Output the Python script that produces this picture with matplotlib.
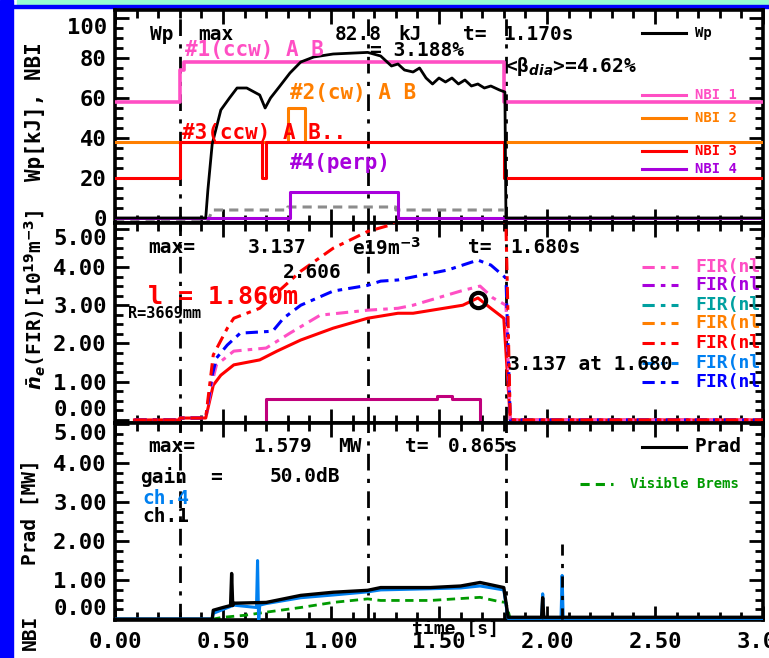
import matplotlib
matplotlib.use("Agg")
import matplotlib.pyplot as plt
from matplotlib.patches import Rectangle
from matplotlib.ticker import MultipleLocator

W, H = 769, 658

# ---- panel 1 : stored energy and NBI timing ----
WP_T = [0.00, 0.42, 0.43, 0.45, 0.49, 0.53, 0.565, 0.61, 0.67, 0.695, 0.72, 0.76, 0.81, 0.86,
        0.92, 1.01, 1.17, 1.23, 1.25, 1.28, 1.31, 1.34, 1.38, 1.41, 1.44, 1.47, 1.50, 1.53,
        1.56, 1.59, 1.62, 1.65, 1.68, 1.71, 1.74, 1.78, 1.805, 1.81, 3.00]
WP_V = [0, 0, 14, 37, 54, 60, 65, 65, 61.5, 55, 60, 65.5, 72.5, 78,
        80.5, 82, 82.8, 81, 79, 76, 77, 74, 73, 75, 70, 67, 70, 68,
        70, 67, 69, 66, 67, 65, 66, 64, 63, 0, 0]
NBI1_T = [0.00, 0.30, 0.30, 0.32, 0.32, 1.80, 1.80, 3.00]
NBI1_V = [58, 58, 74, 74, 78, 78, 58, 58]
NBI2_T = [0.00, 0.80, 0.80, 0.88, 0.88, 3.00]
NBI2_V = [38, 38, 55, 55, 38, 38]
NBI3_T = [0.00, 0.30, 0.30, 0.68, 0.68, 0.70, 0.70, 1.80, 1.80, 3.00]
NBI3_V = [20, 20, 38, 38, 20, 20, 38, 38, 20, 20]
NBI4_T = [0.00, 0.81, 0.81, 1.31, 1.31, 3.00]
NBI4_V = [0, 0, 13, 13, 0, 0]
GREY_T = [0.00, 0.43, 0.45, 0.80, 0.80, 1.30, 1.30, 1.80]
GREY_V = [-1.8, -1.8, 4, 4, 5.5, 5.5, 4, 4]

# ---- panel 2 : line averaged density (FIR) ----
PINK_T = [0.09, 0.30, 0.30, 0.42, 0.45, 0.47, 0.55, 0.70, 0.81, 0.95, 1.17, 1.31, 1.38,
          1.60, 1.69, 1.75, 1.81, 1.83, 3.00]
PINK_V = [0, 0, 0.05, 0.05, 1.0, 1.44, 1.80, 1.88, 2.27, 2.74, 2.87, 2.92, 3.0,
          3.37, 3.5, 3.19, 3.0, 0, 0]
REDD_T = [0.09, 0.30, 0.30, 0.42, 0.455, 0.52, 0.55, 0.67, 0.86, 1.01, 1.17, 1.27, 1.35,
          1.78, 1.81, 1.83, 3.00]
REDD_V = [0, 0, 0.05, 0.05, 1.70, 2.40, 2.66, 2.92, 3.89, 4.49, 4.93, 5.09, 5.4,
          5.4, 5.1, 0, 0]
BLUE_T = [0.09, 0.30, 0.30, 0.42, 0.45, 0.47, 0.52, 0.58, 0.73, 0.78, 0.86, 1.01, 1.17,
          1.23, 1.31, 1.54, 1.68, 1.74, 1.81, 1.83, 3.00]
BLUE_V = [0, 0, 0.05, 0.05, 1.17, 1.62, 1.96, 2.27, 2.32, 2.66, 3.0, 3.37, 3.52,
          3.63, 3.66, 3.92, 4.18, 4.05, 3.71, 0, 0]
REDS_T = [0.09, 0.30, 0.30, 0.42, 0.455, 0.49, 0.55, 0.67, 0.75, 0.86, 1.01, 1.17, 1.31,
          1.38, 1.61, 1.68, 1.74, 1.80, 1.83, 3.00]
REDS_V = [0, 0, 0.05, 0.05, 0.91, 1.17, 1.44, 1.57, 1.80, 2.09, 2.40, 2.66, 2.79,
          2.79, 3.0, 3.19, 2.92, 2.66, 0, 0]
GATE_T = [0.70, 0.70, 1.49, 1.49, 1.56, 1.56, 1.69, 1.69]
GATE_V = [0, 0.55, 0.55, 0.62, 0.62, 0.55, 0.55, 0]
NE_MAX = (1.68, 3.137)

# ---- panel 3 : radiated power ----
PRAD_T = [0.00, 0.45, 0.455, 0.50, 0.535, 0.54, 0.545, 0.55, 0.70, 0.86, 1.01, 1.17, 1.23,
          1.46, 1.60, 1.69, 1.80, 1.82, 1.975, 1.98, 1.985, 3.00]
PRAD_V = [0, 0, 0.23, 0.30, 0.35, 1.17, 0.35, 0.41, 0.43, 0.61, 0.69, 0.74, 0.81,
          0.81, 0.85, 0.94, 0.81, 0.05, 0.05, 0.55, 0.05, 0.05]
CH4_T = [0.00, 0.45, 0.455, 0.50, 0.55, 0.655, 0.66, 0.665, 0.67, 0.70, 0.86, 1.01, 1.17,
         1.23, 1.46, 1.60, 1.69, 1.80, 1.82, 1.975, 1.98, 1.985, 2.065, 2.07, 2.075, 3.00]
CH4_V = [0.01, 0.01, 0.15, 0.25, 0.36, 0.30, 1.50, -0.10, 0.36, 0.40, 0.55, 0.62, 0.70,
         0.75, 0.78, 0.80, 0.85, 0.75, 0.02, 0.02, 0.65, 0.02, 0.02, 1.12, 0.02, 0.02]
VB_T = [0.45, 0.50, 0.60, 0.70, 0.86, 1.01, 1.17, 1.23, 1.46, 1.69, 1.78, 1.81, 1.83]
VB_V = [0.0, 0.05, 0.10, 0.18, 0.30, 0.43, 0.52, 0.48, 0.48, 0.56, 0.45, 0.43, 0.0]

MARK_T = [0.30, 1.17, 1.81]
XTICKS = [0.0, 0.5, 1.0, 1.5, 2.0, 2.5, 3.0]
XTICKLABELS = ["0.00", "0.50", "1.00", "1.50", "2.00", "2.50", "3.00"]
Y1TICKS = [0, 20, 40, 60, 80, 100]
Y23TICKS = [0, 1, 2, 3, 4, 5]
Y23LABELS = ["0.00", "1.00", "2.00", "3.00", "4.00", "5.00"]

PINK = "#ff4fc4"
ORANGE = "#ff7f00"
RED = "#ff0000"
VIOLET = "#a800dc"
TEAL = "#00a0a0"
AZURE = "#0080f0"
BLUE = "#0000ff"
GREEN = "#009a00"
MAGENTA = "#c0007c"

FIR_LEGEND = [PINK, VIOLET, TEAL, ORANGE, RED, AZURE, BLUE]
FIR_LEGEND_Y = [267, 285, 305, 323, 343, 363, 382]

MONO = "DejaVu Sans Mono"
plt.rcParams.update({"font.family": MONO, "font.weight": "bold"})

fig = plt.figure(figsize=(W / 100, H / 100), dpi=100)
fig.patch.set_facecolor("white")


def fx(x):
    return x / W


def fy(y):
    return 1 - y / H


def ftext(x, y, s, size=14, color="black", ha="left", **kw):
    fig.text(fx(x), fy(y), s, fontsize=size, color=color, ha=ha, va="center",
             fontweight="bold", family=MONO, **kw)


# frame decorations
fig.add_artist(Rectangle((0, 0), fx(13), 1, transform=fig.transFigure, color="#0000ff", zorder=0))
fig.add_artist(Rectangle((fx(17), fy(5)), 1, fy(0) - fy(5), transform=fig.transFigure,
                         color="#96fcd2", zorder=0))
fig.add_artist(Rectangle((0, fy(8)), 1, fy(5) - fy(8), transform=fig.transFigure,
                         color="#0000ff", zorder=0))

L, R = fx(115), fx(763)
ax1 = fig.add_axes([L, fy(223), R - L, fy(10) - fy(223)])
ax2 = fig.add_axes([L, fy(423), R - L, fy(223) - fy(423)])
ax3 = fig.add_axes([L, fy(620), R - L, fy(423) - fy(620)])

for ax in (ax1, ax2, ax3):
    ax.set_xlim(0, 3.0)
    ax.xaxis.set_major_locator(MultipleLocator(0.5))
    ax.xaxis.set_minor_locator(MultipleLocator(0.1))
    ax.tick_params(which="both", direction="in", top=True, right=True, width=2, colors="black")
    ax.tick_params(which="major", length=10)
    ax.tick_params(which="minor", length=6)
    ax.tick_params(axis="y", labelsize=16, pad=6)
    for sp in ax.spines.values():
        sp.set_linewidth(2.6)
    for t in MARK_T:
        ax.axvline(t, color="black", lw=2, ls=(0, (6, 3, 1.5, 3)), zorder=1)
    ax.tick_params(axis="x", labelbottom=False)

ax3.set_xticks(XTICKS)
ax3.set_xticklabels(XTICKLABELS)
ax3.tick_params(axis="x", labelbottom=True, labelsize=16, pad=9)

# panel 1
ax1.set_ylim(-2.5, 104)
ax1.set_yticks(Y1TICKS)
ax1.yaxis.set_minor_locator(MultipleLocator(5))
ax1.plot(GREY_T, GREY_V, color="#8c8c8c", lw=2.2, ls=(0, (3, 2)), zorder=2)
ax1.plot(NBI1_T, NBI1_V, color=PINK, lw=2.6, zorder=3)
ax1.plot(NBI2_T, NBI2_V, color=ORANGE, lw=2.2, zorder=3)
ax1.plot(NBI3_T, NBI3_V, color=RED, lw=2.2, zorder=3)
ax1.plot(NBI4_T, NBI4_V, color=VIOLET, lw=2.2, zorder=3)
ax1.plot(WP_T, WP_V, color="black", lw=2.0, zorder=4)

# panel 2
ax2.set_ylim(-0.08, 5.15)
ax2.set_yticks(Y23TICKS)
ax2.set_yticklabels(Y23LABELS)
ax2.yaxis.set_minor_locator(MultipleLocator(0.25))
ax2.plot(GATE_T, GATE_V, color=MAGENTA, lw=2.2, zorder=2)
ax2.plot(REDS_T, REDS_V, color=RED, lw=2.2, zorder=3)
ax2.plot(PINK_T, PINK_V, color=PINK, lw=2.2, ls=(0, (4, 2, 1.5, 2)), zorder=3)
ax2.plot(BLUE_T, BLUE_V, color=BLUE, lw=2.2, ls=(0, (4, 2, 1.5, 2)), zorder=3)
ax2.plot(REDD_T, REDD_V, color=RED, lw=2.2, ls=(0, (4, 2, 1.5, 2)), zorder=3)
ax2.plot([NE_MAX[0]], [NE_MAX[1]], "o", ms=11, mfc="none", mec="black", mew=3, zorder=5)

# panel 3
ax3.set_ylim(-0.02, 5.02)
ax3.set_yticks(Y23TICKS)
ax3.set_yticklabels(Y23LABELS)
ax3.yaxis.set_minor_locator(MultipleLocator(0.25))
ax3.plot(VB_T, VB_V, color=GREEN, lw=2.0, ls=(0, (3, 2)), zorder=2)
ax3.plot(CH4_T, CH4_V, color=AZURE, lw=2.2, zorder=3)
ax3.plot(PRAD_T, PRAD_V, color="black", lw=2.4, zorder=4)
ax3.vlines(2.07, 0, 1.97, color="black", lw=2, ls=(0, (4, 3, 1.5, 3)), zorder=4)

# keep the end labels of neighbouring panels apart, as in the original display
for ax in (ax2, ax3):
    labels = ax.get_yticklabels()
    labels[0].set_verticalalignment("bottom")
    labels[-1].set_verticalalignment("top")
ax1.get_yticklabels()[-1].set_verticalalignment("top")
ax1.get_yticklabels()[0].set_verticalalignment("center_baseline")

# panel 1 texts
ftext(150, 35, "Wp")
ftext(198, 35, "max")
ftext(335, 35, "82.8")
ftext(398, 35, "kJ")
ftext(463, 35, "t=")
ftext(503, 35, "1.170s")
ftext(370, 50, "= 3.188%")
ftext(505, 67, "<\u03b2$_{dia}$>=4.62%")
ftext(185, 50, "#1(ccw) A B", size=15, color=PINK)
ftext(290, 93, "#2(cw) A B", size=15, color=ORANGE)
ftext(182, 133, "#3(ccw) A B..", size=15, color=RED)
ftext(290, 163, "#4(perp)", size=15, color=VIOLET)

leg1 = [("Wp", "black", 33), ("NBI 1", PINK, 95), ("NBI 2", ORANGE, 118),
        ("NBI 3", RED, 151), ("NBI 4", VIOLET, 169)]
for lab, col, yy in leg1:
    fig.add_artist(plt.Line2D([fx(642), fx(686)], [fy(yy), fy(yy)], color=col, lw=2.2,
                              transform=fig.transFigure))
    ftext(695, yy, lab, size=10, color=col)

# panel 2 texts
ftext(148, 248, "max=")
ftext(248, 248, "3.137")
ftext(352, 248, "e19m$^{-3}$")
ftext(468, 248, "t=")
ftext(510, 248, "1.680s")
ftext(283, 273, "2.606")
ftext(148, 297, "l = 1.860m", size=18, color=RED)
ftext(128, 313, "R=3669mm", size=11)
ftext(508, 364, "3.137 at 1.680")
for col, yy in zip(FIR_LEGEND, FIR_LEGEND_Y):
    fig.add_artist(plt.Line2D([fx(642), fx(678)], [fy(yy), fy(yy)], color=col, lw=2.2,
                              ls=(0, (4, 2, 1.5, 2)), transform=fig.transFigure))
    t = ax2.text(695, yy, "FIR(nl)", fontsize=13, color=col, va="center", fontweight="bold",
                 transform=fig.dpi_scale_trans, clip_on=True)
    t.set_position((fx(695) * W / 100, fy(yy) * H / 100))

# panel 3 texts
ftext(148, 447, "max=")
ftext(253, 447, "1.579")
ftext(338, 447, "MW")
ftext(405, 447, "t=")
ftext(448, 447, "0.865s")
ftext(140, 477, "gain")
ftext(210, 477, "=")
ftext(270, 477, "50.0dB")
ftext(142, 498, "ch.4", color=AZURE)
ftext(142, 517, "ch.1")
fig.add_artist(plt.Line2D([fx(642), fx(686)], [fy(447), fy(447)], color="black", lw=2.2,
                          transform=fig.transFigure))
ftext(695, 447, "Prad", size=14)
fig.add_artist(plt.Line2D([fx(580), fx(613)], [fy(484), fy(484)], color=GREEN, lw=2.2,
                          ls=(0, (3, 2)), transform=fig.transFigure))
ftext(630, 484, "Visible Brems", size=10, color=GREEN)

# axis labels
ftext(35, 112, "Wp[kJ], NBI", size=15, ha="center", rotation=90)
ftext(35, 300, "$\\bar{n}_e$(FIR)[10$^{19}$m$^{-3}$]", size=14, ha="center", rotation=90)
ftext(30, 512, "Prad [MW]", size=14, ha="center", rotation=90)
ftext(30, 632, "NBI", size=14, ha="center", rotation=90)
ftext(455, 630, "time [s]", size=13, ha="center")

fig.savefig("out.png", dpi=100)
